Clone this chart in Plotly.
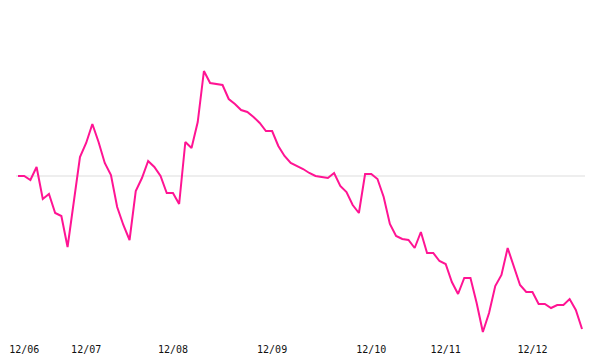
import plotly.graph_objects as go

# Series values (percent change vs. baseline), one value per observation
values = [
    0.0, 0.0, -0.4, 0.9, -2.3, -1.8, -3.7, -4.0, -7.1, -2.6,
    1.9, 3.3, 5.2, 3.4, 1.3, 0.1, -3.1, -4.9, -6.4, -1.5,
    -0.2, 1.5, 0.9, 0.0, -1.7, -1.7, -2.8, 3.4, 2.8, 5.4,
    10.5, 9.3, 9.2, 9.1, 7.7, 7.2, 6.6, 6.4, 5.9, 5.3,
    4.5, 4.5, 3.0, 2.0, 1.3, 1.0, 0.7, 0.3, 0.0, -0.1,
    -0.2, 0.3, -1.0, -1.6, -2.9, -3.7, 0.2, 0.2, -0.3, -2.1,
    -4.8, -6.0, -6.3, -6.4, -7.2, -5.6, -7.7, -7.7, -8.5, -8.8,
    -10.6, -11.8, -10.2, -10.2, -12.7, -15.6, -13.7, -11.0, -9.9, -7.2,
    -9.1, -10.9, -11.6, -11.6, -12.8, -12.8, -13.2, -12.9, -12.9, -12.3,
    -13.4, -15.3,
]
x_index = list(range(len(values)))

# Tick labels (year/month) and the observation index where each month starts
tick_index = [1, 11, 25, 41, 57, 69, 83]
tick_labels = ["12/06", "12/07", "12/08", "12/09", "12/10", "12/11", "12/12"]

baseline = 0.0

fig = go.Figure()
fig.add_trace(go.Scatter(
    x=x_index, y=values, mode="lines",
    line=dict(color="#ff1493", width=2),
    hoverinfo="skip", showlegend=False,
))

fig.add_shape(type="line", xref="paper", yref="y",
              x0=0, x1=1, y0=baseline, y1=baseline,
              line=dict(color="#dddddd", width=1), layer="below")

fig.update_layout(
    width=600, height=360,
    margin=dict(l=16, r=15, t=20, b=20, autoexpand=False),
    paper_bgcolor="white", plot_bgcolor="white",
    font=dict(family="DejaVu Sans Mono", size=10, color="#111111"),
    xaxis=dict(
        range=[-0.32, 91.48], automargin=False,
        tickmode="array", tickvals=tick_index, ticktext=tick_labels,
        showgrid=False, zeroline=False, showline=False, ticks="",
        ticklabelstandoff=2,
    ),
    yaxis=dict(
        range=[-16.4, 15.6], automargin=False,
        showgrid=False, zeroline=False, showline=False,
        showticklabels=False, ticks="",
    ),
)

fig.write_html("out.html")
